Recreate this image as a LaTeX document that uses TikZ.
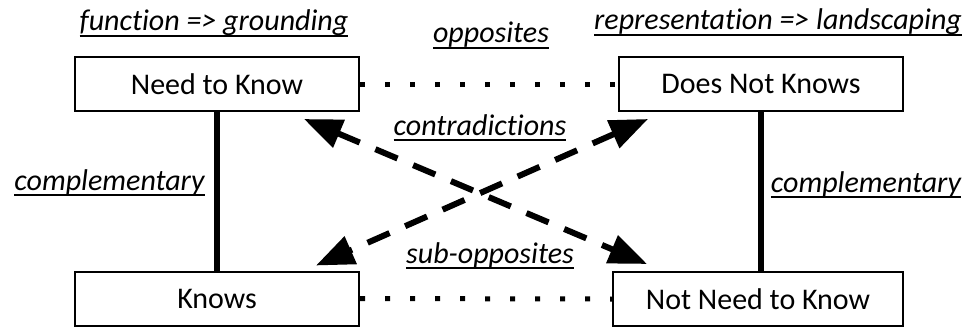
\documentclass[tikz,border=0pt]{standalone}
\usepackage{fontspec}
\setmainfont{Carlito}[Ligatures=NoCommon]
\usetikzlibrary{arrows.meta,calc}
% italic label with a heavy underline
\newcommand\ulabel[1]{\setbox0\hbox{\itshape #1}\rlap{\rule[-6pt]{\wd0}{2.2pt}}\box0}
\begin{document}
\begin{tikzpicture}[x=1pt,y=-1pt,
  every node/.style={font=\fontsize{30}{36}\selectfont},
  term/.style={draw, line width=2pt, minimum width=284pt, minimum height=54pt, inner sep=0pt},
  note/.style={anchor=base, inner sep=0pt},
  opp/.style={line width=5pt, dash pattern=on 5pt off 20pt},
  compl/.style={line width=5.5pt},
  contra/.style={line width=6pt, dash pattern=on 24pt off 17pt,
    {Triangle[length=38pt,width=29pt]}-{Triangle[length=38pt,width=29pt]}}
]
\useasboundingbox (0,0) rectangle (968,329);

% the four terms of the square
\node[term] (nk)  at (217,84)    {Need to Know};
\node[term] (dnk) at (761,84)    {Does Not Knows};
\node[term] (kn)  at (217,298.5) {Knows};
\node[term, minimum width=290pt] (nnk) at (758,299) {Not Need to Know};

% complementary sides
\draw[compl] (nk.south) -- (kn.north);
\draw[compl] (dnk.south) -- (dnk.south |- nnk.north);

% opposites / sub-opposites
\draw[opp] (nk.east) -- (dnk.west);
\draw[opp] (kn.east) -- (nnk.west);

% contradictions (diagonals)
\coordinate (a1) at ($(nk.south east)+(-56,7)$);
\coordinate (a2) at ($(nnk.north west)+(35,-7)$);
\coordinate (b1) at ($(dnk.south west)+(30,7)$);
\coordinate (b2) at ($(kn.north east)+(-44,-5)$);
\draw[contra] (a1) -- (a2);
\draw[contra] (b1) -- (b2);

% labels
\node[note] (lfun) at (214,31)   {\ulabel{function => grounding}};
\node[note] (lrep) at (778,30)   {\ulabel{representation => landscaping}};
\node[note] (lopp) at (491,43)   {\ulabel{opposites}};
\node[note] (lcon) at (480,135)  {\ulabel{contradictions}};
\node[note] (lcl)  at (109.5,190) {\ulabel{complementary}};
\node[note] (lcr)  at (866,192)  {\ulabel{complementary}};
\node[note] (lsub) at (490,263)  {\ulabel{sub-opposites}};
\end{tikzpicture}
\end{document}
